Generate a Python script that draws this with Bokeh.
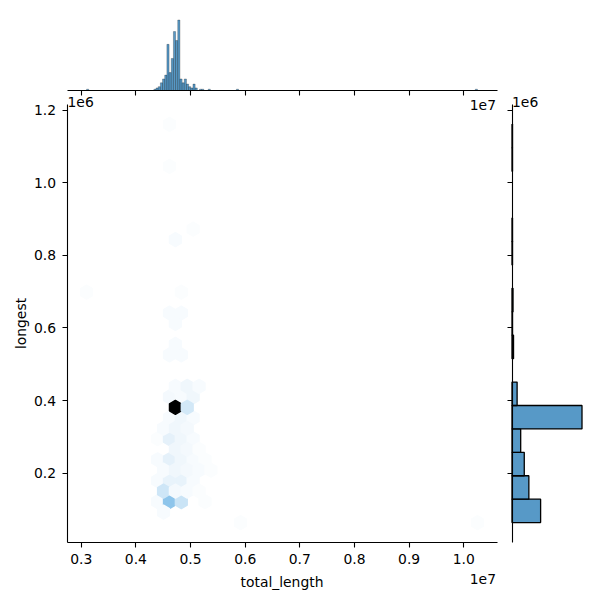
import colorsys
import numpy as np
from bokeh.plotting import figure
from bokeh.models import Range1d, FixedTicker, CustomJSTickFormatter, Label, LinearAxis
from bokeh.embed import file_html
from bokeh.resources import INLINE

# ---------------- data ----------------
x_lo, x_hi = 3.0976e6, 10.25e6      # extremes of total_length
y_lo, y_hi = 0.0634e6, 1.1613e6     # extremes of longest
hex_nx = 33                          # hexbin gridsize (x)
hex_ny = 19                          # hexbin gridsize (y)

# hex cells: column (units of hex width from x_lo), half-row (from y_lo), count
hex_col = [13, 33, 6.5, 6, 7, 8, 10, 6.5, 7.5, 8.5, 9.5, 6, 7, 8, 9,
           6.5, 7.5, 8.5, 9.5, 10.5, 6, 7, 8, 9, 10, 7.5, 8.5, 9.5, 6, 7, 8, 9,
           6.5, 7.5, 8.5, 7, 8, 9, 7.5, 8.5, 7, 8, 9, 7.5, 8.5, 9.5,
           7, 8, 7.5, 7.5, 7, 8, 0, 8, 7.5, 9, 7, 7]
hex_row = [0, 0, 1, 2, 2, 2, 2, 3, 3, 3, 3, 4, 4, 4, 4,
           5, 5, 5, 5, 5, 6, 6, 6, 6, 6, 7, 7, 7, 8, 8, 8, 8,
           9, 9, 9, 10, 10, 10, 11, 11, 12, 12, 12, 13, 13, 13,
           16, 16, 17, 19, 20, 20, 22, 22, 27, 28, 34, 38]
hex_count = [1, 1, 2, 2, 30, 14, 1, 13, 3, 2, 1, 2, 6, 6, 2,
             2, 4, 3, 2, 1, 2, 7, 4, 2, 1, 4, 3, 1, 1, 7, 4, 2,
             2, 4, 3, 2, 4, 2, 115, 12, 3, 2, 4, 2, 4, 2,
             2, 2, 2, 2, 2, 2, 1, 1, 2, 1, 1, 1]

# marginal histogram of total_length
xhist_nbins = 180
xhist_bin = [0, 31, 32, 33, 34, 35, 36, 37, 38, 39, 40, 41, 42, 43, 44, 45,
             46, 47, 48, 49, 50, 52, 53, 56, 69, 179]
xhist_count = [1, 1, 2, 3, 6, 9, 12, 36, 14, 25, 46, 39, 55, 9, 6, 9,
               5, 3, 2, 5, 2, 1, 1, 1, 1, 1]

# marginal histogram of longest (17 bins from y_lo to y_hi)
yhist_count = [56, 33, 24, 17, 137, 10, 0, 3, 1, 2, 0, 1, 1, 0, 0, 1, 1]

x_ticks = [3e6, 4e6, 5e6, 6e6, 7e6, 8e6, 9e6, 10e6]
y_ticks = [2e5, 4e5, 6e5, 8e5, 10e5, 12e5]

# ---------------- layout (page pixels) ----------------
W = H = 592
MAIN_L, MAIN_R, MAIN_T, MAIN_B = 66.5, 496.5, 104.0, 542.0
TOP_BASE, TOP_TOP = 90.0, 16.0
RIGHT_BASE, RIGHT_END = 511.5, 585.0
FONT = "DejaVu Sans"
FS = "13.9px"

# ---------------- derived ----------------
C0 = (31 / 255, 119 / 255, 180 / 255)
h0, l0, s0 = colorsys.rgb_to_hls(*C0)


def hexcolor(t):
    r, g, b = colorsys.hls_to_rgb(h0, 1 - t, s0)
    return "#%02x%02x%02x" % (int(round(r * 255)), int(round(g * 255)), int(round(b * 255)))


sx = (x_hi - x_lo) / hex_nx
sy = (y_hi - y_lo) / hex_ny
cmax = max(hex_count)
cx = x_lo + np.array(hex_col) * sx
cy = y_lo + np.array(hex_row) * sy / 2
vx = sx * np.array([0.5, 0.5, 0, -0.5, -0.5, 0])
vy = sy / 3 * np.array([-0.5, 0.5, 1, 0.5, -0.5, -1])
order = sorted(range(len(hex_col)), key=lambda i: (hex_row[i] % 2, i))
hx = [list(cx[i] + vx) for i in order]
hy = [list(cy[i] + vy) for i in order]
hc = [hexcolor(hex_count[i] / cmax) for i in order]

xs, xe = x_lo - 0.05 * (x_hi - x_lo), x_hi + 0.05 * (x_hi - x_lo)
ys, ye = y_lo - 0.05 * (y_hi - y_lo), y_hi + 0.05 * (y_hi - y_lo)
u = (xe - xs) / (MAIN_R - MAIN_L)
v = (ye - ys) / (MAIN_B - MAIN_T)
x_range = Range1d(xs - MAIN_L * u, xe + (W - MAIN_R) * u)
y_range = Range1d(ys - (H - MAIN_B) * v, ye + MAIN_T * v)

tmax = max(xhist_count) * 1.05
ct = tmax / (TOP_BASE - TOP_TOP)
top_range = Range1d(-(H - TOP_BASE) * ct, tmax + TOP_TOP * ct)
rmax = max(yhist_count) * 1.05
cr = rmax / (RIGHT_END - RIGHT_BASE)
right_range = Range1d(-RIGHT_BASE * cr, rmax + (W - RIGHT_END) * cr)

p = figure(width=W, height=H, x_range=x_range, y_range=y_range,
           x_axis_location=None, y_axis_location=None, min_border=0,
           output_backend="svg", toolbar_location=None)
p.extra_y_ranges = {"top": top_range}
p.extra_x_ranges = {"right": right_range}
p.grid.visible = False
p.outline_line_color = None

# hexbin
p.patches(hx, hy, fill_color=hc, line_color=hc, line_width=1.4)

# top marginal histogram
xedges = np.linspace(x_lo, x_hi, xhist_nbins + 1)
xb = np.array(xhist_bin)
p.quad(left=xedges[xb], right=xedges[xb + 1], bottom=0, top=xhist_count,
       y_range_name="top", fill_color="#1f77b4", fill_alpha=0.75,
       line_color="black", line_width=0.25)

# right marginal histogram
yedges = np.linspace(y_lo, y_hi, len(yhist_count) + 1)
nz = np.array([i for i, c in enumerate(yhist_count) if c > 0])
p.quad(left=0, right=[yhist_count[i] for i in nz], bottom=yedges[nz], top=yedges[nz + 1],
       x_range_name="right", fill_color="#1f77b4", fill_alpha=0.75,
       line_color="black", line_width=1.3)


def style(ax, labels=True):
    ax.major_tick_in = 0
    ax.major_tick_out = 5
    ax.minor_tick_line_color = None
    ax.axis_line_width = 1.1
    ax.major_tick_line_width = 1.1
    ax.major_label_text_font = FONT
    ax.major_label_text_font_size = FS
    ax.major_label_text_color = "black" if labels else None
    ax.major_label_standoff = 6


xfmt = CustomJSTickFormatter(code="return (tick/1e7).toFixed(1)")
yfmt = CustomJSTickFormatter(code="return (tick/1e6).toFixed(1)")

ax_x = LinearAxis(fixed_location=ys, bounds=(xs, xe), ticker=FixedTicker(ticks=x_ticks), formatter=xfmt)
style(ax_x)
p.add_layout(ax_x, "below")
ax_y = LinearAxis(fixed_location=xs, bounds=(ys, ye), ticker=FixedTicker(ticks=y_ticks), formatter=yfmt)
style(ax_y)
p.add_layout(ax_y, "left")
ax_tx = LinearAxis(y_range_name="top", fixed_location=0, bounds=(xs, xe),
                   ticker=FixedTicker(ticks=x_ticks), formatter=xfmt)
style(ax_tx, labels=False)
p.add_layout(ax_tx, "below")
ax_ry = LinearAxis(x_range_name="right", fixed_location=0, bounds=(ys, ye),
                   ticker=FixedTicker(ticks=y_ticks), formatter=yfmt)
style(ax_ry, labels=False)
p.add_layout(ax_ry, "left")


def label(text, px, py, align="left", baseline="alphabetic", angle=0.0):
    p.add_layout(Label(x=px, y=H - py, x_units="screen", y_units="screen", text=text,
                       text_align=align, text_baseline=baseline, angle=angle,
                       text_font=FONT, text_font_size=FS, text_color="black"))


label("total_length", (MAIN_L + MAIN_R) / 2, 581.5, align="center")
label("longest", 20.5, (MAIN_T + MAIN_B) / 2, align="center", baseline="middle", angle=np.pi / 2)
label("1e7", 495.5, 578.3, align="right")
label("1e6", 67.0, 101.5)
label("1e7", 495.5, 104.5, align="right")
label("1e6", 511.5, 101.0)

open("out.html", "w").write(file_html(p, INLINE))
